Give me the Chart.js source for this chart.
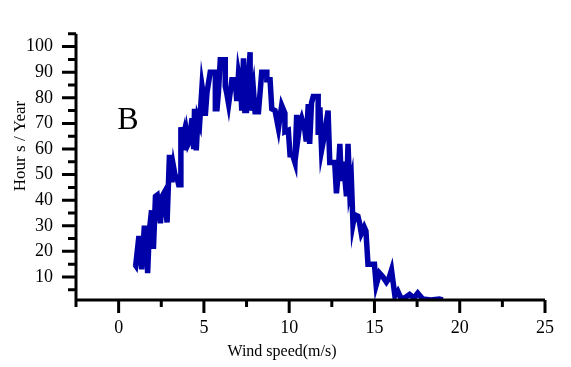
<!DOCTYPE html>
<html>
<head>
<meta charset="utf-8">
<script src="https://cdn.jsdelivr.net/npm/chart.js@4"></script>
<style>
  html, body { margin: 0; padding: 0; background: #fff; }
  #wrap { width: 571px; height: 367px; }
</style>
</head>
<body>
<div id="wrap"><canvas id="chart" width="571" height="367"></canvas></div>
<script>
// wind speed (m/s)
const windSpeed = [0.95, 1.0, 1.19, 1.35, 1.5, 1.62, 1.7, 1.8, 1.93, 2.04, 2.16, 2.26, 2.36, 2.45,
  2.55, 2.65, 2.75, 2.84, 2.98, 3.13, 3.22, 3.3, 3.45, 3.52, 3.6, 3.65, 3.75, 3.82, 3.9, 4.0,
  4.08, 4.15, 4.3, 4.4, 4.45, 4.55, 4.65, 4.75, 4.89, 4.98, 5.08, 5.18, 5.37, 5.67, 5.67,
  5.77, 5.85, 5.96, 6.25, 6.25, 6.35, 6.45, 6.64, 6.83, 6.93, 7.03, 7.15, 7.22, 7.32, 7.4,
  7.5, 7.62, 7.71, 7.71, 7.9, 8.0, 8.2, 8.39, 8.69, 8.69, 8.88, 8.98, 9.17, 9.27, 9.37,
  9.56, 9.75, 9.75, 9.95, 10.05, 10.2, 10.34, 10.44, 10.53, 10.63, 10.73, 10.92, 11.0, 11.12,
  11.2, 11.31, 11.41, 11.7, 11.7, 11.8, 11.9, 12.0, 12.09, 12.28, 12.38, 12.67, 12.77, 12.87,
  12.97, 13.06, 13.16, 13.26, 13.36, 13.45, 13.55, 13.65, 13.74, 13.84, 14.03, 14.13, 14.23,
  14.4, 14.5, 14.62, 15.0, 15.1, 15.3, 15.5, 15.7, 15.85, 16.0, 16.2, 16.37, 16.57, 16.8,
  17.06, 17.2, 17.35, 17.54, 17.83, 18.3, 18.8, 19.0];

// hours per year at each wind speed
const hoursPerYear = [15, 14.5, 26, 13, 29, 29, 11.5, 28, 36, 21, 41.5, 42, 36.7, 31,
  41.5, 42.7, 37, 31.3, 57.7, 47, 53, 50, 48, 46, 46, 68.5, 64, 66, 59.5, 65.5,
  62, 63, 72, 60, 75.7, 59.5, 72, 70, 84.6, 80.5, 73, 82, 90, 90, 75.7,
  75.7, 82, 94.9, 94.9, 84.5, 81.4, 77.5, 87, 87, 78.7, 89.5, 85, 75, 95.4, 75,
  75, 88.9, 97.8, 75, 83.5, 74.5, 74.5, 90, 90, 87, 87, 75.7, 75, 71.5, 68,
  77, 73.9, 66.7, 67.3, 57.7, 57.7, 54.7, 73.3, 64.9, 70, 72, 67.3, 63, 77.5,
  62, 78, 80.5, 80.5, 65.5, 76.3, 59.5, 63, 66.7, 75, 54.7, 54.7, 42.7, 50,
  62, 47.5, 55, 49, 41.5, 62, 44, 47.5, 30.7, 34.3, 33.7, 31, 27,
  29.5, 28, 15, 15, 6.8, 11.5, 10, 8, 9.5, 12.7, 2.6, 4.4, 1.4, 2,
  3.2, 2.4, 2, 3.7, 1.4, 1.0, 1.4, 1.0];

const xTicks = [0, 5, 10, 15, 20, 25];
const yTicks = [10, 20, 30, 40, 50, 60, 70, 80, 90, 100];

const serif = '"Liberation Serif", "DejaVu Serif", serif';

// axis lines, major/minor ticks and the free text
const framePlugin = {
  id: 'frame',
  afterDraw(chart) {
    const ctx = chart.ctx;
    const { left, right, top, bottom } = chart.chartArea;
    const xs = chart.scales.x, ys = chart.scales.y;
    ctx.save();
    ctx.strokeStyle = '#000';
    ctx.lineWidth = 3;
    ctx.lineCap = 'butt';
    ctx.beginPath();
    ctx.moveTo(left, top);
    ctx.lineTo(left, bottom + 1.5);
    ctx.moveTo(left - 1.5, bottom);
    ctx.lineTo(right, bottom);
    for (let v = -2.5; v <= 25; v += 2.5) {
      const px = xs.getPixelForValue(v);
      const len = v % 5 === 0 ? 13 : 7;
      ctx.moveTo(px, bottom);
      ctx.lineTo(px, bottom + len);
    }
    for (let v = 5; v <= 105; v += 5) {
      const py = ys.getPixelForValue(v);
      const len = v % 10 === 0 ? 14 : 8;
      ctx.moveTo(left, py);
      ctx.lineTo(left - len, py);
    }
    ctx.stroke();

    ctx.fillStyle = '#000';
    ctx.textAlign = 'center';
    ctx.textBaseline = 'middle';
    ctx.font = '32px ' + serif;
    ctx.fillText('B', 128, 121);
    ctx.font = '16px ' + serif;
    ctx.fillText('Wind speed(m/s)', 282, 352);
    ctx.translate(21, 146);
    ctx.rotate(-Math.PI / 2);
    ctx.font = '17px ' + serif;
    ctx.fillText('Hour s / Year', 0, 0);
    ctx.restore();
  }
};

new Chart(document.getElementById('chart'), {
  type: 'line',
  data: {
    datasets: [{
      data: windSpeed.map((w, i) => ({ x: w, y: hoursPerYear[i] })),
      borderColor: '#0000A8',
      borderWidth: 5.5,
      pointRadius: 0,
      tension: 0,
      fill: false
    }]
  },
  options: {
    responsive: false,
    animation: false,
    devicePixelRatio: 1,
    layout: { padding: { top: 10, right: 24, left: 0, bottom: 0 } },
    plugins: { legend: { display: false }, tooltip: { enabled: false } },
    scales: {
      x: {
        type: 'linear',
        min: -2.5,
        max: 25,
        grid: { display: false, drawTicks: false },
        border: { display: false },
        afterBuildTicks: (scale) => { scale.ticks = xTicks.map(v => ({ value: v })); },
        afterFit: (scale) => { scale.height = 67; },
        ticks: { color: '#000', font: { family: serif, size: 18 }, padding: 17, maxRotation: 0 }
      },
      y: {
        min: 1,
        max: 105,
        grid: { display: false, drawTicks: false },
        border: { display: false },
        afterBuildTicks: (scale) => { scale.ticks = yTicks.map(v => ({ value: v })); },
        afterFit: (scale) => { scale.width = 76; },
        ticks: { color: '#000', font: { family: serif, size: 18 }, padding: 23 }
      }
    }
  },
  plugins: [framePlugin]
});
</script>
</body>
</html>
